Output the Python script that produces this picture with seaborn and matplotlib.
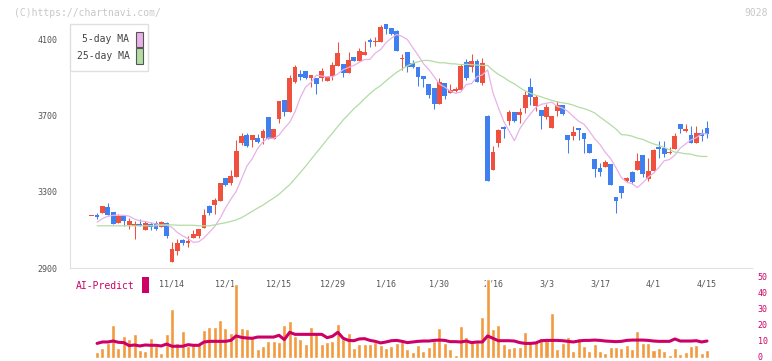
import numpy as np
import matplotlib
matplotlib.use("Agg")
import matplotlib.pyplot as plt
import matplotlib.transforms as mtransforms
from matplotlib.patches import Rectangle
import seaborn as sns

# daily candles, oldest first
opens = [3173, 3181, 3192, 3222, 3195, 3139, 3174, 3127, 3123, 3134, 3101, 3129, 3139, 3118, 3139, 2934, 2992, 3048, 3034, 3060,
         3069, 3109, 3224, 3232, 3255, 3374, 3346, 3381, 3560, 3600, 3571, 3585, 3586, 3692, 3578, 3683, 3785, 3723, 3877, 3921,
         3937, 3898, 3900, 3902, 3886, 3911, 3965, 3974, 3928, 4011, 3991, 4021, 4100, 4090, 4088, 4184, 4165, 4149, 4002, 4039,
         3979, 3960, 3912, 3869, 3849, 3763, 3876, 3821, 3832, 3837, 3983, 3960, 3990, 3874, 3700, 3418, 3560, 3641, 3676, 3721,
         3704, 3744, 3855, 3755, 3732, 3697, 3639, 3728, 3758, 3600, 3595, 3637, 3609, 3553, 3474, 3428, 3434, 3448, 3276, 3332,
         3358, 3407, 3416, 3495, 3369, 3411, 3535, 3530, 3504, 3528, 3658, 3623, 3600, 3560, 3611, 3635]
highs = [3176, 3192, 3228, 3244, 3196, 3183, 3175, 3165, 3148, 3158, 3146, 3143, 3148, 3148, 3140, 3037, 3050, 3055, 3069, 3101,
         3105, 3211, 3232, 3267, 3349, 3375, 3416, 3571, 3609, 3609, 3601, 3606, 3634, 3697, 3633, 3780, 3786, 3916, 3969, 3942,
         3938, 3917, 3901, 3953, 3912, 3986, 4091, 3974, 4037, 4011, 4056, 4095, 4112, 4118, 4179, 4184, 4165, 4150, 4025, 4039,
         3995, 3960, 3912, 3869, 3849, 3902, 3876, 3867, 3855, 3974, 3998, 4026, 3998, 4004, 3703, 3543, 3634, 3648, 3732, 3722,
         3741, 3834, 3902, 3811, 3732, 3763, 3701, 3781, 3758, 3600, 3648, 3637, 3609, 3554, 3474, 3455, 3469, 3449, 3276, 3333,
         3378, 3408, 3507, 3496, 3478, 3527, 3569, 3569, 3539, 3613, 3658, 3658, 3648, 3648, 3634, 3674]
lows = [3172, 3157, 3191, 3181, 3133, 3139, 3123, 3106, 3053, 3122, 3100, 3099, 3099, 3117, 3059, 2932, 2966, 3020, 3013, 3059,
        3057, 3108, 3180, 3183, 3254, 3334, 3337, 3380, 3548, 3539, 3539, 3557, 3553, 3577, 3577, 3665, 3702, 3722, 3876, 3890,
        3893, 3855, 3816, 3886, 3885, 3890, 3965, 3907, 3927, 3991, 3991, 4021, 4065, 4070, 4087, 4132, 4126, 4043, 3942, 3933,
        3951, 3858, 3855, 3793, 3737, 3762, 3790, 3820, 3828, 3836, 3890, 3933, 3880, 3863, 3360, 3417, 3539, 3586, 3655, 3670,
        3662, 3718, 3758, 3728, 3634, 3683, 3638, 3700, 3706, 3504, 3571, 3571, 3504, 3506, 3381, 3386, 3429, 3336, 3192, 3267,
        3350, 3343, 3415, 3378, 3360, 3410, 3481, 3483, 3500, 3527, 3613, 3616, 3559, 3559, 3570, 3583]
closes = [3175, 3171, 3227, 3181, 3134, 3174, 3148, 3148, 3134, 3123, 3139, 3118, 3104, 3144, 3066, 3001, 3032, 3034, 3043, 3080,
          3104, 3180, 3188, 3259, 3348, 3337, 3385, 3516, 3595, 3543, 3600, 3565, 3621, 3578, 3632, 3779, 3723, 3898, 3958, 3907,
          3898, 3916, 3870, 3937, 3911, 3969, 4032, 3925, 3995, 3991, 4042, 4037, 4091, 4091, 4170, 4158, 4133, 4044, 4005, 3960,
          3958, 3907, 3897, 3811, 3762, 3881, 3806, 3837, 3842, 3963, 3902, 3990, 3881, 3979, 3360, 3511, 3627, 3630, 3721, 3671,
          3721, 3811, 3802, 3800, 3702, 3748, 3700, 3758, 3713, 3571, 3616, 3627, 3579, 3507, 3422, 3407, 3460, 3337, 3255, 3297,
          3372, 3355, 3464, 3395, 3411, 3521, 3527, 3500, 3513, 3592, 3634, 3632, 3560, 3611, 3592, 3606]

# moving averages as drawn on the chart
ma5 = [np.nan, 3141, 3160, 3172, 3177,
       3178, 3177, 3173, 3157, 3148, 3145, 3138, 3132, 3124, 3126, 3114, 3087, 3069, 3055, 3035, 3038, 3059, 3088, 3119, 3162,
       3216, 3262, 3303, 3369, 3436, 3475, 3528, 3564, 3585, 3581, 3599, 3635, 3667, 3722, 3798, 3853, 3877, 3915, 3910, 3906,
       3906, 3921, 3944, 3955, 3966, 3982, 3997, 3998, 4031, 4050, 4086, 4109, 4129, 4119, 4102, 4060, 4020, 3975, 3945, 3907,
       3867, 3852, 3831, 3819, 3826, 3866, 3870, 3907, 3916, 3943, 3822, 3744, 3672, 3621, 3570, 3632, 3674, 3711, 3745, 3761,
       3767, 3773, 3750, 3742, 3724, 3698, 3672, 3657, 3621, 3580, 3550, 3508, 3475, 3427, 3376, 3351, 3344, 3323, 3349, 3377,
       3399, 3429, 3464, 3471, 3494, 3531, 3553, 3574, 3586, 3606, 3606]
ma25 = [np.nan, 3122, 3122, 3122, 3122, 3122, 3122, 3122, 3122, 3122, 3122, 3122, 3122, 3127, 3127, 3127, 3125, 3125, 3125, 3125,
        3122, 3122, 3122, 3127, 3133,
        3138, 3145, 3153, 3165, 3181, 3198, 3215, 3231, 3250, 3268, 3288, 3314, 3338, 3370, 3403, 3436, 3472, 3507, 3541, 3577,
        3610, 3645, 3679, 3708, 3738, 3763, 3791, 3818, 3841, 3860, 3885, 3908, 3930, 3947, 3964, 3978, 3985, 3992, 3992, 3986,
        3980, 3980, 3975, 3974, 3970, 3972, 3970, 3968, 3966, 3966, 3940, 3919, 3903, 3884, 3869, 3849, 3832, 3819, 3809, 3801,
        3791, 3782, 3774, 3769, 3765, 3757, 3746, 3739, 3729, 3716, 3694, 3674, 3653, 3631, 3602, 3600, 3594, 3583, 3577, 3564,
        3553, 3545, 3534, 3522, 3510, 3506, 3501, 3499, 3491, 3487, 3487]

volume = [0, 3.8, 6.3, 9.0, 20.6, 6.3, 13.7, 11.8, 15.1, 4.9, 4.2, 12.4, 7.4, 3.2, 14.9, 30.7, 9.3, 16.8, 7.4, 9.3,
          9.3, 17.4, 19.1, 19.3, 23.8, 18.9, 15.8, 46.4, 18.7, 18.1, 12.2, 5.7, 7.4, 10.5, 10.5, 10.1, 20.6, 23.1, 13.9, 12.0,
          8.6, 19.3, 16.2, 8.6, 10.1, 10.5, 21.4, 11.8, 15.8, 6.1, 8.6, 8.6, 8.6, 10.1, 8.0, 6.1, 7.4, 9.5, 10.7, 5.7,
          3.8, 8.0, 4.4, 6.7, 10.5, 18.5, 9.5, 5.5, 1.7, 20.0, 13.0, 11.2, 9.9, 25.6, 49.6, 18.1, 20.6, 8.6, 6.3, 6.7,
          6.7, 16.2, 9.7, 9.7, 12.4, 12.0, 28.1, 5.5, 9.5, 13.0, 4.0, 12.4, 7.4, 4.0, 8.6, 4.4, 3.2, 6.7, 6.7, 5.9,
          8.0, 5.5, 16.8, 9.5, 9.5, 4.9, 6.3, 4.0, 1.7, 6.3, 2.3, 3.8, 7.4, 8.0, 3.2, 4.9]
ai_predict = [np.nan, 9.0, 9.9, 9.9, 10.5, 9.7, 9.5, 7.6, 8.0, 7.4, 8.0, 7.8, 7.8, 7.4, 8.6, 7.2, 7.2, 7.2, 8.2, 7.8,
              7.8, 9.9, 10.3, 10.3, 10.3, 10.3, 10.9, 13.7, 12.8, 12.4, 12.2, 13.0, 13.0, 13.0, 13.0, 14.1, 11.4, 16.0, 14.7, 14.7,
              14.7, 14.7, 14.7, 14.7, 12.6, 13.5, 16.0, 12.2, 10.9, 10.7, 11.8, 12.0, 10.9, 10.3, 9.3, 9.9, 10.7, 10.9, 10.3, 9.5,
              9.9, 10.3, 10.5, 10.5, 10.9, 11.1, 10.9, 10.1, 10.1, 9.9, 10.5, 9.5, 9.9, 9.9, 13.7, 12.2, 10.7, 10.7, 10.7, 10.5,
              9.5, 9.0, 9.0, 9.3, 10.7, 10.9, 10.9, 10.9, 10.7, 10.3, 9.9, 10.5, 10.9, 10.9, 11.1, 10.9, 10.5, 10.3, 10.1, 10.3,
              10.9, 11.1, 11.1, 11.1, 10.9, 10.5, 10.3, 10.3, 10.3, 11.8, 10.5, 10.5, 10.5, 10.7, 9.9, 10.5]

date_labels = ["11/14", "12/1", "12/15", "12/29", "1/16", "1/30", "2/16", "3/3", "3/17", "4/1", "4/15"]
label_idx = [15, 25, 35, 45, 55, 65, 75, 85, 95, 105, 115]

RED, BLUE = "#f0513f", "#3f7ff0"
PINK, GREEN = "#e8b2e8", "#b2dca4"
ORANGE, MAGENTA = "#f29a3d", "#cc0066"
GRID = "#e0e0e0"

sns.set_style("white")
plt.rcParams["font.family"] = ["DejaVu Sans Mono"]

W, H = 772, 361
fig = plt.figure(figsize=(W / 100, H / 100), dpi=100)


def box(l, t, r, b):
    # pixel box (left, top, right, bottom) -> figure fraction rect
    return [l / W, 1 - b / H, (r - l) / W, (b - t) / H]


ax = fig.add_axes(box(70, 24, 752, 268))
axv = fig.add_axes(box(70, 278.3, 752, 357.7))
axv.patch.set_alpha(0)

x = np.arange(len(closes))
o = np.array(opens, float)
c = np.array(closes, float)
colors = np.where(c >= o, RED, BLUE)
XLIM = (-4.06, 123.41)

# candles
ax.vlines(x, lows, highs, colors=colors, lw=0.75, zorder=2)
ax.bar(x, np.maximum(np.abs(c - o), 5), bottom=np.minimum(o, c), width=0.9,
       color=colors, lw=0, zorder=3)
sns.lineplot(x=x, y=ma5, color=PINK, lw=0.9, ax=ax, zorder=4)
sns.lineplot(x=x, y=ma25, color=GREEN, lw=0.9, ax=ax, zorder=4)

ax.set_xlim(*XLIM)
ax.set_ylim(2900, 4184)
ax.set_yticks([2900, 3300, 3700, 4100])
ax.set_xticks(label_idx, date_labels)
ax.set_xticks(np.linspace(XLIM[0], XLIM[1], 12), minor=True)
ax.tick_params(axis="y", length=5, width=1, color=GRID, labelsize=6, labelcolor="#555555", pad=4)
ax.tick_params(axis="x", which="major", length=0, labelsize=6, labelcolor="#555555", pad=8.5)
ax.tick_params(axis="x", which="minor", direction="inout", length=7, width=1, color=GRID)
for s in ["top", "right"]:
    ax.spines[s].set_visible(False)
for s in ["left", "bottom"]:
    ax.spines[s].set_color(GRID)
ax.set_xlabel("")
ax.set_ylabel("")

# volume bars + AI-Predict line
sns.barplot(x=x[1:], y=volume[1:], native_scale=True, color=ORANGE, saturation=1,
            width=0.75, ax=axv, zorder=2)
sns.lineplot(x=x, y=ai_predict, color=MAGENTA, lw=2.2, ax=axv, zorder=3)
axv.set_xlim(*XLIM)
axv.set_ylim(0, 50)
axv.set_xticks([])
axv.yaxis.tick_right()
axv.set_yticks(range(0, 51, 10))
axv.tick_params(axis="y", length=0, labelsize=6, labelcolor=MAGENTA, pad=4)
nudge = mtransforms.ScaledTranslation(0, 1.5 / 100, fig.dpi_scale_trans)
for lab in axv.get_yticklabels():
    lab.set_transform(lab.get_transform() + nudge)
for s in axv.spines.values():
    s.set_visible(False)
axv.set_xlabel("")
axv.set_ylabel("")

# legend box
fig.add_artist(Rectangle((70 / W, 1 - 71 / H), 78 / W, 47 / H, transform=fig.transFigure,
                         fc="white", ec=GRID, lw=1))
for label, col, yc in [("5-day MA", PINK, 39.5), ("25-day MA", GREEN, 56)]:
    fig.text(129.5 / W, 1 - yc / H, label, ha="right", va="center", fontsize=7, color="#444444")
    fig.add_artist(Rectangle((136 / W, 1 - (yc + 7.5) / H), 6.5 / W, 15 / H,
                             transform=fig.transFigure, fc=col, ec="#555555", lw=0.8))

fig.text(14 / W, 1 - 12.5 / H, "(C)https://chartnavi.com/", ha="left", va="center",
         fontsize=7, color="#c8c8c8")
fig.text(768 / W, 1 - 12.5 / H, "9028", ha="right", va="center", fontsize=7, color="#c8c8c8")
fig.text(75.5 / W, 1 - 286 / H, "AI-Predict", ha="left", va="center", fontsize=7, color=MAGENTA)
fig.add_artist(Rectangle((141.7 / W, 1 - 292.7 / H), 7.3 / W, 16 / H, transform=fig.transFigure,
                         fc=MAGENTA, lw=0))

fig.savefig("out.png", dpi=100)
